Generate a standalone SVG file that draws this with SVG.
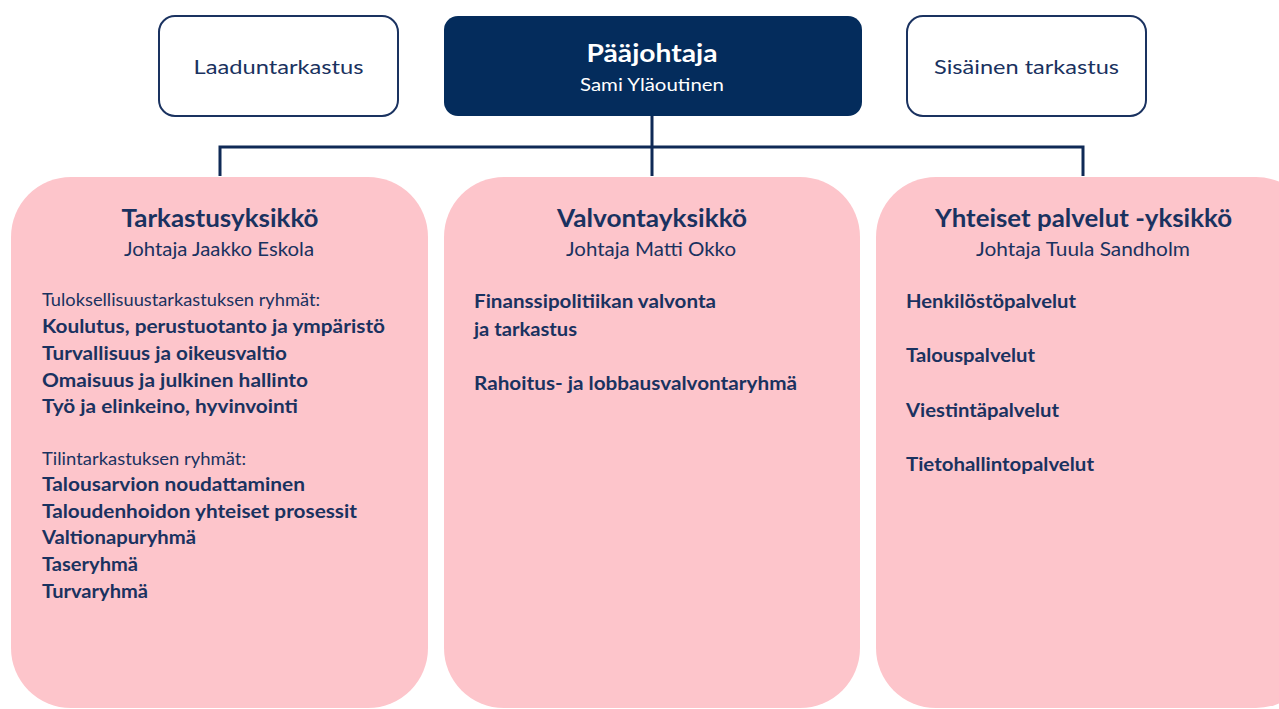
<svg xmlns="http://www.w3.org/2000/svg" width="1279" height="709" viewBox="0 0 1279 709">
<style>
text{font-family:Lato,"Open Sans","Noto Sans",sans-serif;fill:#1a3260}
.t{font-weight:bold;font-size:24px;text-anchor:middle}
.s{font-size:18.5px;text-anchor:middle}
.h{font-size:16.5px}
.b{font-weight:bold;font-size:18px}
.side{fill:#fff;stroke:#1a3260;stroke-width:2}
.unit{fill:#fdc5cb}
.ln{stroke:#0f2a56;stroke-width:3;fill:none}
</style>
<rect width="1279" height="709" fill="#fff"/>
<g id="connectors">
<path class="ln" d="M652 116 V176 M220 176 V147 H1083 V176"/>
</g>
<g id="laaduntarkastus">
<rect class="side" x="159" y="16" width="239" height="100" rx="16"/>
<text x="278.5" y="74" class="s" style="font-size:19.5px" textLength="170" lengthAdjust="spacingAndGlyphs">Laaduntarkastus</text>
</g>
<g id="paajohtaja">
<rect x="444" y="16" width="418" height="100" rx="14" fill="#042c5c"/>
<text x="652" y="62" class="t" style="fill:#fff;font-size:25px" textLength="131" lengthAdjust="spacingAndGlyphs">Pääjohtaja</text>
<text x="652" y="91" class="s" style="fill:#fff;font-size:18px" textLength="144" lengthAdjust="spacingAndGlyphs">Sami Yläoutinen</text>
</g>
<g id="sisainen">
<rect class="side" x="907" y="16" width="239" height="100" rx="16"/>
<text x="1026.5" y="74" class="s" style="font-size:19.5px" textLength="185" lengthAdjust="spacingAndGlyphs">Sisäinen tarkastus</text>
</g>
<g id="tarkastusyksikko">
<rect class="unit" x="11" y="177" width="417" height="531" rx="60"/>
<text x="220" y="227" class="t" textLength="197" lengthAdjust="spacingAndGlyphs">Tarkastusyksikkö</text>
<text x="219" y="256" class="s" textLength="190" lengthAdjust="spacingAndGlyphs">Johtaja Jaakko Eskola</text>
<text x="42" y="306" class="h" textLength="278" lengthAdjust="spacingAndGlyphs">Tuloksellisuustarkastuksen ryhmät:</text>
<text x="42" y="333" class="b" textLength="343" lengthAdjust="spacingAndGlyphs">Koulutus,  perustuotanto  ja ympäristö</text>
<text x="42" y="360" class="b" textLength="245" lengthAdjust="spacingAndGlyphs">Turvallisuus  ja oikeusvaltio</text>
<text x="42" y="387" class="b" textLength="266" lengthAdjust="spacingAndGlyphs">Omaisuus  ja julkinen  hallinto</text>
<text x="42" y="413" class="b" textLength="256" lengthAdjust="spacingAndGlyphs">Työ ja elinkeino, hyvinvointi</text>
<text x="42" y="465" class="h" textLength="204" lengthAdjust="spacingAndGlyphs">Tilintarkastuksen ryhmät:</text>
<text x="42" y="491" class="b" textLength="263" lengthAdjust="spacingAndGlyphs">Talousarvion  noudattaminen</text>
<text x="42" y="518" class="b" textLength="315" lengthAdjust="spacingAndGlyphs">Taloudenhoidon  yhteiset prosessit</text>
<text x="42" y="544" class="b" textLength="154" lengthAdjust="spacingAndGlyphs">Valtionapuryhmä</text>
<text x="42" y="571" class="b" textLength="96" lengthAdjust="spacingAndGlyphs">Taseryhmä</text>
<text x="42" y="598" class="b" textLength="106" lengthAdjust="spacingAndGlyphs">Turvaryhmä</text>
</g>
<g id="valvontayksikko">
<rect class="unit" x="444" y="177" width="416" height="531" rx="60"/>
<text x="652" y="227" class="t" textLength="190" lengthAdjust="spacingAndGlyphs">Valvontayksikkö</text>
<text x="651" y="256" class="s" textLength="170" lengthAdjust="spacingAndGlyphs">Johtaja Matti Okko</text>
<text x="474" y="308" class="b" textLength="242" lengthAdjust="spacingAndGlyphs">Finanssipolitiikan  valvonta</text>
<text x="474" y="336" class="b" textLength="103" lengthAdjust="spacingAndGlyphs">ja tarkastus</text>
<text x="474" y="390" class="b" textLength="323" lengthAdjust="spacingAndGlyphs">Rahoitus-  ja lobbausvalvontaryhmä</text>
</g>
<g id="yhteiset">
<rect class="unit" x="876" y="177" width="440" height="531" rx="60"/>
<text x="1083.5" y="227" class="t" textLength="297" lengthAdjust="spacingAndGlyphs">Yhteiset palvelut -yksikkö</text>
<text x="1083" y="256" class="s" textLength="214" lengthAdjust="spacingAndGlyphs">Johtaja Tuula Sandholm</text>
<text x="906" y="308" class="b" textLength="170" lengthAdjust="spacingAndGlyphs">Henkilöstöpalvelut</text>
<text x="906" y="362" class="b" textLength="129" lengthAdjust="spacingAndGlyphs">Talouspalvelut</text>
<text x="906" y="417" class="b" textLength="153" lengthAdjust="spacingAndGlyphs">Viestintäpalvelut</text>
<text x="906" y="471" class="b" textLength="188" lengthAdjust="spacingAndGlyphs">Tietohallintopalvelut</text>
</g>
</svg>
